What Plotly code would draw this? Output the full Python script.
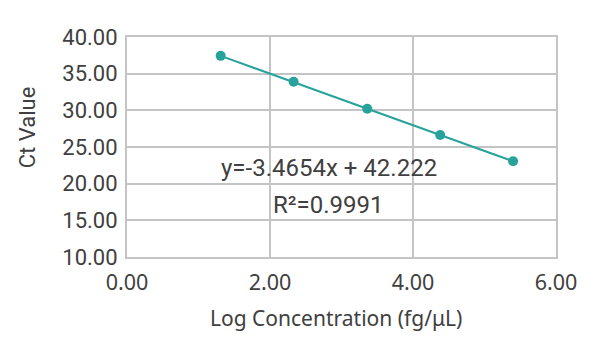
import plotly.graph_objects as go

# Standard curve: log concentration vs. Ct
log_conc = [1.31, 2.33, 3.36, 4.38, 5.40]
ct_values = [37.43, 33.89, 30.22, 26.64, 23.06]

x_ticks = [0, 2, 4, 6]
y_ticks = [10, 15, 20, 25, 30, 35, 40]

equation_text = "y=-3.4654x + 42.222"
r2_text = "R²=0.9991"

teal = "#27a39c"
grid = "#c4c4c4"
text_col = "#404040"

fig = go.Figure()
fig.add_trace(go.Scatter(
    x=log_conc, y=ct_values,
    mode="lines+markers",
    line=dict(color=teal, width=2),
    marker=dict(color=teal, size=10),
    showlegend=False,
))

fig.update_layout(
    width=600, height=344,
    margin=dict(l=127, r=44, t=37, b=87),
    paper_bgcolor="white",
    plot_bgcolor="white",
    font=dict(family="Roboto", size=22, color=text_col),
    xaxis=dict(
        range=[0, 6], tickvals=x_ticks, tickformat=".2f",
        showgrid=True, gridcolor=grid, gridwidth=1.5,
        showline=True, linecolor=grid, linewidth=2, mirror=True,
        zeroline=False, ticks="", ticklabelstandoff=5,
        tickfont=dict(family="Noto Sans", size=21.5, color=text_col),
    ),
    yaxis=dict(
        range=[10, 40], tickvals=y_ticks, tickformat=".2f",
        showgrid=True, gridcolor=grid, gridwidth=1.5,
        showline=True, linecolor=grid, linewidth=2, mirror=True,
        zeroline=False, ticks="", ticklabelstandoff=3,
        tickfont=dict(family="Roboto", size=22, color=text_col),
    ),
    annotations=[
        dict(x=2.83, y=22.1, xref="x", yref="y", text=equation_text,
             showarrow=False, font=dict(family="Roboto", size=24, color=text_col)),
        dict(x=2.82, y=17.07, xref="x", yref="y", text=r2_text,
             showarrow=False, font=dict(family="Roboto", size=24, color=text_col)),
        dict(x=0.487, y=-0.277, xref="paper", yref="paper",
             xanchor="center", yanchor="middle",
             text="Log Concentration (fg/μL)", showarrow=False,
             font=dict(family="Noto Sans", size=21, color=text_col)),
        dict(x=-0.233, y=0.59, xref="paper", yref="paper",
             xanchor="center", yanchor="middle", text="Ct Value",
             textangle=-90, showarrow=False,
             font=dict(family="Roboto", size=22, color=text_col)),
    ],
)

fig.write_html("out.html")
